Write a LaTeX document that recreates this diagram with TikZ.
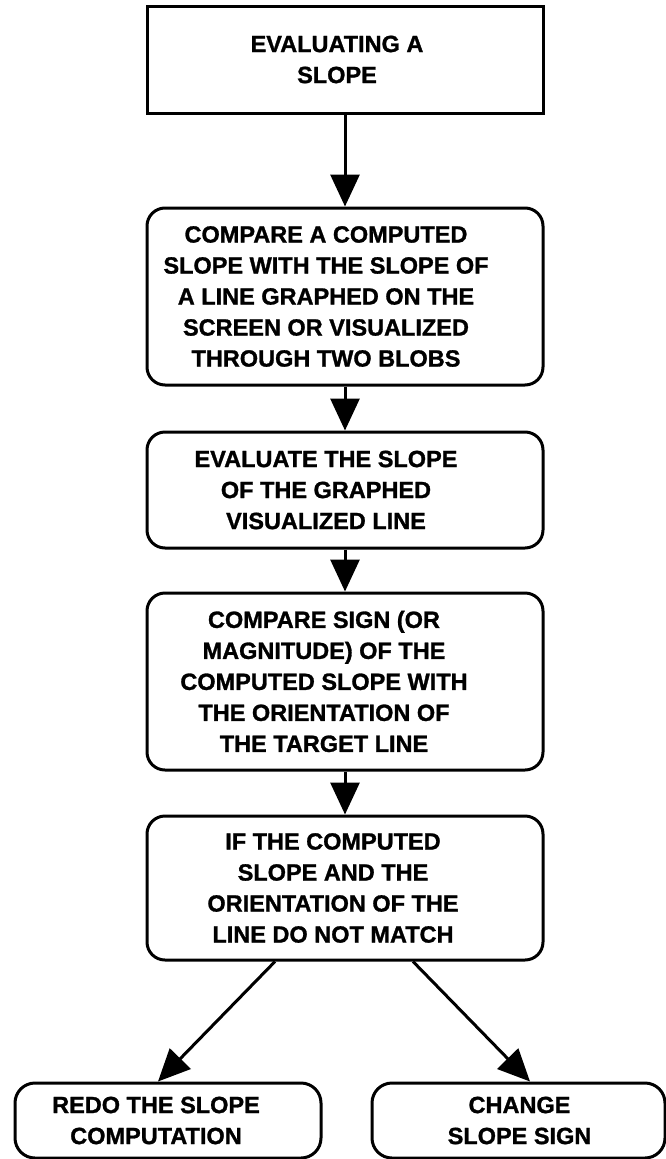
\documentclass[tikz,border=0pt]{standalone}
\usepackage{fontspec}
\setmainfont{Liberation Sans}[BoldFeatures={FakeBold=1.2}]
\usetikzlibrary{arrows.meta,positioning,calc}

\begin{document}
\begin{tikzpicture}[x=1pt, y=-1pt,
    every node/.style={font=\fontsize{23.5}{31}\selectfont\bfseries, align=center},
    stepbox/.style={draw, line width=3pt, rounded corners=18pt, minimum width=396pt},
    flow/.style={-{Triangle[length=32pt, width=29pt]}, line width=3pt}]
    \useasboundingbox (0,0) rectangle (666,1159);

    % Title box
    \node[draw, line width=3pt, minimum width=396pt, minimum height=107pt] (title) at (345,59.5) {};
    \node at ([xshift=-8pt]title) {EVALUATING A\\SLOPE};

    % Main chain of steps
    \node[stepbox, minimum height=177pt] (compare) at (345,296.5) {};
    \node at ([xshift=-19pt]compare) {COMPARE A COMPUTED\\SLOPE WITH THE SLOPE OF\\A LINE GRAPHED ON THE\\SCREEN OR VISUALIZED\\THROUGH TWO BLOBS};

    \node[stepbox, minimum height=116pt] (evaluate) at (345,490) {};
    \node at ([xshift=-19pt]evaluate) {EVALUATE THE SLOPE\\OF THE GRAPHED\\VISUALIZED LINE};

    \node[stepbox, minimum height=177pt] (sign) at (345,681.5) {};
    \node at ([xshift=-21pt]sign) {COMPARE SIGN (OR\\MAGNITUDE) OF THE\\COMPUTED SLOPE WITH\\THE ORIENTATION OF\\THE TARGET LINE};

    \node[stepbox, minimum height=144pt] (check) at (345,888) {};
    \node at ([xshift=-12pt]check) {IF THE COMPUTED\\SLOPE AND THE\\ORIENTATION OF THE\\LINE DO NOT MATCH};

    % Two outcomes
    \node[stepbox, rounded corners=20pt, minimum width=306pt, minimum height=75pt] (redo) at (168,1120.5) {};
    \node at ([xshift=-12pt]redo) {REDO THE SLOPE\\COMPUTATION};
    \node[stepbox, rounded corners=20pt, minimum width=293pt, minimum height=75pt] (change) at (518.5,1120.5) {};
    \node at ([xshift=1pt]change) {CHANGE\\SLOPE SIGN};

    % Arrows
    \draw[flow] (title) -- (compare);
    \draw[flow] (compare) -- (evaluate);
    \draw[flow] (evaluate) -- (sign);
    \draw[flow] (sign) -- (check);
    \draw[flow] ([xshift=-70pt]check.south) -- ([xshift=-10pt]redo.north);
    \draw[flow] ([xshift=68pt]check.south) -- ([xshift=11.5pt]change.north);
\end{tikzpicture}
\end{document}
